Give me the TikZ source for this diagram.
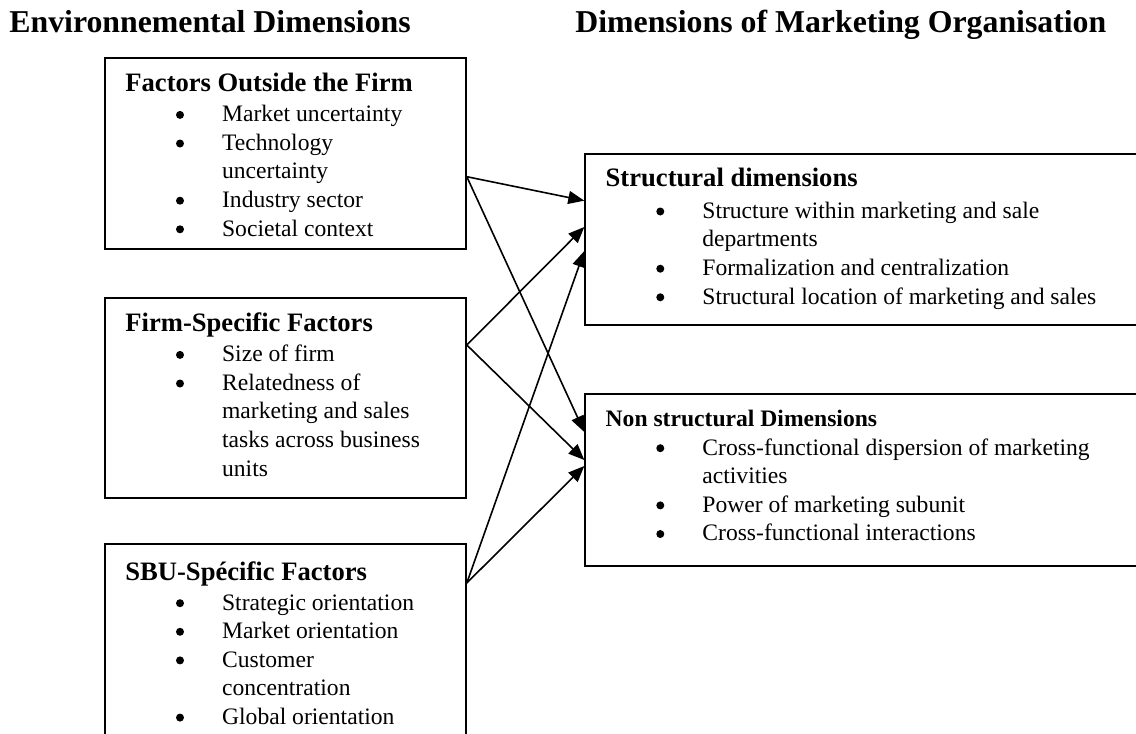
\documentclass[tikz,border=0pt]{standalone}
\usepackage{fontspec}
\setmainfont{Liberation Serif}
\usetikzlibrary{arrows.meta,calc}
\newcommand{\hdfont}{\fontsize{13.3pt}{15pt}\selectfont\bfseries}
\newcommand{\bdfont}{\fontsize{11.8pt}{14.3pt}\selectfont}
\newcommand{\ttlfont}{\fontsize{15.9pt}{18pt}\selectfont\bfseries}
\newcommand{\bdot}{\tikz[baseline=0pt]\fill (2pt,3.4pt) circle (2pt);}
\newcommand{\itm}[1]{\hbox{\hbox to 48.35pt{\hspace{25.3pt}\bdot\hfil}#1}}
\newcommand{\cnt}[1]{\hbox{\hspace{48.35pt}#1}}
\newcommand{\blk}[3]{\vtop{\bdfont\baselineskip=14.3pt\lineskiplimit=-100pt\lineskip=0pt\hbox{#1}\vskip #2 #3}}
\tikzset{
  arr/.style={line width=0.8pt, -{Triangle[length=8pt,width=6.5pt]}},
  boxn/.style={draw, line width=1pt, inner sep=0pt, anchor=north west},
  txt/.style={inner sep=0pt, anchor=base west}
}
\begin{document}
\begin{tikzpicture}[x=0.5pt,y=-0.5pt]
\useasboundingbox (0,0) rectangle (1136,734);
\clip (0,0) rectangle (1136,734);
% titles
\node[txt] (T1) at (9,32.3) {\ttlfont Environnemental Dimensions};
\node[txt] (T2) at (575,32.3) {\ttlfont Dimensions of Marketing Organisation};
% boxes
\node[boxn, minimum width=180.25pt, minimum height=95.65pt] (A) at (104.3,57) {};
\node[boxn, minimum width=180.25pt, minimum height=100pt] (B) at (104.3,296.7) {};
\node[boxn, minimum width=180.25pt, minimum height=110pt] (C) at (104.3,543.3) {};
\node[boxn, minimum width=282.85pt, minimum height=85.65pt] (S) at (584.3,152.7) {};
\node[boxn, minimum width=282.85pt, minimum height=86.15pt] (N) at (584.3,392.7) {};
% box texts
\node[txt] (At) at (125,91.7) {\blk{\hdfont Factors Outside the Firm}{0.7pt}{%
  \itm{Market uncertainty}\itm{Technology}\cnt{uncertainty}\itm{Industry sector}\itm{Societal context}}};
\node[txt] (Bt) at (125,331.7) {\blk{\hdfont Firm-Specific Factors}{0.7pt}{%
  \itm{Size of firm}\itm{Relatedness of}\cnt{marketing and sales}\cnt{tasks across business}\cnt{units}}};
\node[txt] (Ct) at (125,580) {\blk{\hdfont SBU-Spécific Factors}{0.7pt}{%
  \itm{Strategic orientation}\itm{Market orientation}\itm{Customer}\cnt{concentration}\itm{Global orientation}}};
\node[txt] (St) at (605.3,186.7) {\blk{\hdfont Structural dimensions}{1.5pt}{%
  \itm{Structure within marketing and sale}\cnt{departments}\itm{Formalization and centralization}\itm{Structural location of marketing and sales}}};
\node[txt] (Nt) at (605.3,426) {\blk{\bfseries Non structural Dimensions}{0.2pt}{%
  \itm{Cross-functional dispersion of marketing}\cnt{activities}\itm{Power of marketing subunit}\itm{Cross-functional interactions}}};
% connectors
\coordinate (a0) at ($(A.north east)+(0,119.7)$);
\coordinate (b0) at ($(B.north east)+(0,48.3)$);
\coordinate (c0) at ($(C.north east)+(0,39.7)$);
\coordinate (sa) at ($(S.north west)+(0,48)$);
\coordinate (sb) at ($(S.north west)+(0,74.3)$);
\coordinate (sc) at ($(S.north west)+(0,98.3)$);
\coordinate (na) at ($(N.north west)+(0,39.3)$);
\coordinate (nb) at ($(N.north west)+(0,67.3)$);
\coordinate (nc) at ($(N.north west)+(0,73.3)$);
\draw[arr] (a0) -- (sa);
\draw[arr] (a0) -- (na);
\draw[arr] (b0) -- (sb);
\draw[arr] (b0) -- (nb);
\draw[arr] (c0) -- (sc);
\draw[arr] (c0) -- (nc);
\end{tikzpicture}
\end{document}
